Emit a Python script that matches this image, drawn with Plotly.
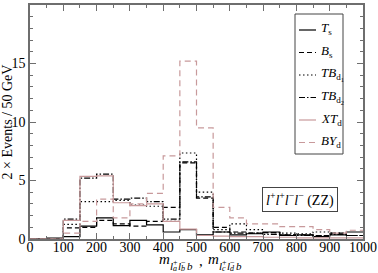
import plotly.graph_objects as go

edges = [0, 50, 100, 150, 200, 250, 300, 350, 400, 450, 500, 550, 600, 650, 700, 750, 800, 850, 900, 950, 1000]

T_s   = [0.02, 0.08, 0.2, 1.1, 1.8, 1.15, 1.6, 1.2, 0.6, 0.8, 0.35, 0.6, 0.35, 0.45, 0.6, 0.3, 0.35, 0.2, 0.35, 0.6]
B_s   = [0.0, 0.0, 0.95, 1.0, 1.6, 1.3, 1.1, 1.5, 2.7, 6.5, 3.5, 1.0, 0.6, 0.5, 0.55, 0.35, 0.35, 0.3, 0.5, 0.3]
TB_d1 = [0.0, 0.0, 1.25, 3.2, 3.2, 3.3, 2.9, 2.8, 1.5, 7.35, 4.0, 0.8, 1.3, 0.8, 0.55, 0.5, 0.45, 0.6, 0.5, 0.3]
TB_d2 = [0.0, 0.0, 1.7, 5.2, 5.55, 3.4, 3.5, 3.2, 1.7, 6.6, 3.6, 0.6, 0.5, 0.5, 0.4, 0.35, 0.3, 0.3, 0.4, 0.3]
XT_d  = [0.0, 0.0, 1.6, 5.35, 5.4, 3.1, 2.85, 3.0, 1.5, 0.85, 0.3, 0.25, 0.2, 0.2, 0.15, 0.15, 0.1, 0.1, 0.1, 0.1]
BY_d  = [0.0, 0.0, 0.5, 1.5, 3.4, 1.8, 3.0, 3.9, 7.1, 15.2, 9.5, 2.7, 1.8, 1.3, 1.3, 1.05, 1.05, 0.8, 0.5, 0.75]

BLACK = "#000000"
PINK = "#c8999b"

series = [
    ("T_s", T_s, BLACK, "solid", 1.2, "<i>T</i><sub>s</sub>"),
    ("B_s", B_s, BLACK, "5px,3px", 1.2, "<i>B</i><sub>s</sub>"),
    ("TB_d1", TB_d1, BLACK, "1.5px,2.5px", 1.2, "<i>TB</i><sub>d<sub>1</sub></sub>"),
    ("TB_d2", TB_d2, BLACK, "6px,2px,1.5px,2px", 1.2, "<i>TB</i><sub>d<sub>2</sub></sub>"),
    ("XT_d", XT_d, PINK, "solid", 1.2, "<i>XT</i><sub>d</sub>"),
    ("BY_d", BY_d, PINK, "6px,4px", 1.2, "<i>BY</i><sub>d</sub>"),
]

fig = go.Figure()
for name, vals, col, dash, w, lab in series:
    xs = edges[:-1] + [edges[-1]]
    ys = vals + [vals[-1]]
    fig.add_trace(go.Scatter(x=xs, y=ys, mode="lines", line=dict(color=col, dash=dash, width=w, shape="hv"),
                             name=name, showlegend=False, hoverinfo="skip"))

FONT = "Liberation Serif, Times New Roman, serif"
axcol = "#6e6e6e"

W, H = 378, 273
L, R, T, B = 30, 15, 5, 34
pw, ph = W - L - R, H - T - B

def px2x(p):
    return (p - L) / pw

def py2y(p):
    return (H - B - p) / ph

def txt(x, y, s, size, xanchor="left"):
    fig.add_annotation(xref="paper", yref="paper", x=px2x(x), y=py2y(y), text=s, showarrow=False,
                       xanchor=xanchor, yanchor="middle", font=dict(family=FONT, size=size, color="black"))

fig.add_shape(type="rect", xref="paper", yref="paper", x0=px2x(295), x1=px2x(343), y0=py2y(154), y1=py2y(14),
              line=dict(color="#444", width=1), fillcolor="white")
rows = [30, 52.5, 75, 97.5, 120, 142.5]
for (name, vals, col, dash, w, lab), yy in zip(series, rows):
    fig.add_shape(type="line", xref="paper", yref="paper", x0=px2x(299), x1=px2x(316), y0=py2y(yy), y1=py2y(yy),
                  line=dict(color=col, dash=dash, width=w))
    txt(319, yy - 1, lab, 13)

fig.add_annotation(xref="paper", yref="paper", x=px2x(299.5), y=py2y(199),
                   text="<i>l</i><sup>+</sup><i>l</i><sup>+</sup><i>l</i><sup>\u2212</sup><i>l</i><sup>\u2212</sup> (ZZ)",
                   showarrow=False, xanchor="center", yanchor="middle",
                   font=dict(family=FONT, size=14, color="black"),
                   bordercolor="#444", borderwidth=1, borderpad=2, bgcolor="white", width=70)

# x-axis title, composed from pieces: m_{l_a^+ l_b^- b} , m_{l_c^+ l_d^- b}
def mass_label(x0, i1, i2):
    txt(x0, 258.5, "<i>m</i>", 15)
    txt(x0 + 10.5, 265.5, "<i>l</i>", 11)
    txt(x0 + 13.5, 262.5, "+", 8)
    txt(x0 + 13.5, 268.5, "<i>%s</i>" % i1, 8)
    txt(x0 + 19, 265.5, "<i>l</i>", 11)
    txt(x0 + 22, 262.5, "\u2212", 8)
    txt(x0 + 22, 268.5, "<i>%s</i>" % i2, 8)
    txt(x0 + 27.5, 265.5, "<i>b</i>", 11)

mass_label(157, "a", "b")
txt(197, 261, ",", 15)
mass_label(206, "c", "d")

fig.update_layout(
    width=W, height=H,
    margin=dict(l=L, r=R, t=T, b=B, autoexpand=False),
    paper_bgcolor="white", plot_bgcolor="white",
    font=dict(family=FONT, size=13, color="black"),
    showlegend=False,
)
fig.update_xaxes(range=[0, 1000], dtick=100, tick0=0, ticks="inside", ticklen=6, tickcolor=axcol,
                 showline=True, linecolor=axcol, linewidth=1.5, mirror="allticks", showgrid=False, zeroline=False,
                 minor=dict(dtick=50, ticks="inside", ticklen=3, tickcolor=axcol),
                 tickfont=dict(family=FONT, size=14), ticklabelstandoff=-6)
fig.update_yaxes(range=[0, 20], dtick=5, tick0=0, ticks="inside", ticklen=6, tickcolor=axcol,
                 showline=True, linecolor=axcol, linewidth=1.5, mirror="allticks", showgrid=False, zeroline=False,
                 minor=dict(dtick=1, ticks="inside", ticklen=3, tickcolor=axcol),
                 tickfont=dict(family=FONT, size=14),
                 title=dict(text="2 \u00d7 Events / 50 GeV", font=dict(family=FONT, size=14), standoff=0))

fig.write_html("out.html", config={"displayModeBar": False},
               post_script="document.body.style.margin='0px';document.body.style.padding='0px';")
